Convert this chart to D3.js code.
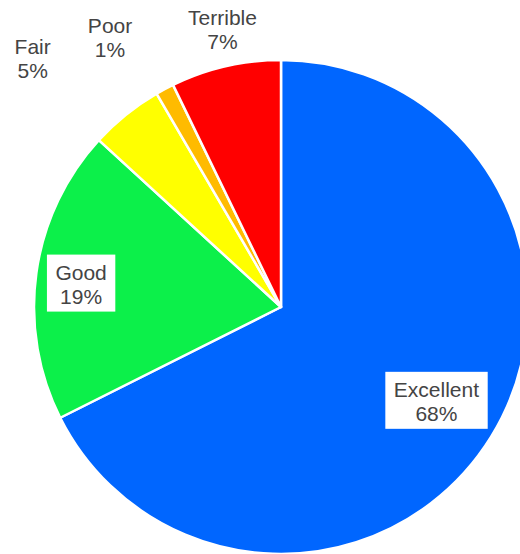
<!DOCTYPE html>
<html>
<head>
<meta charset="utf-8">
<script src="https://cdn.jsdelivr.net/npm/d3@7"></script>
<style>
  body { margin: 0; background: #fff; }
  svg { display: block; }
</style>
</head>
<body>
<div id="chart"></div>
<script>
// data
const categories = ["Excellent", "Good", "Fair", "Poor", "Terrible"]
const shares = [67.6, 19.2, 4.8, 1.2, 7.2]
const colors = ["#0066ff", "#0cf04a", "#ffff00", "#ffbb00", "#ff0000"]

// label placement: angle nudge (deg) from slice middle, radius as fraction of R, boxed or not
const labelPlace = {
  Excellent: { shift: -0.7, r: 0.734, box: true },
  Good: { shift: -1.1, r: 0.815, box: true },
  Fair: { shift: -6.0, r: 1.425, box: false },
  Poor: { shift: -4.2, r: 1.296, box: false },
  Terrible: { shift: 1.1, r: 1.152, box: false }
}

const width = 520
const height = 554
const cx = 281
const cy = 307
const radius = 247
const fontSize = 21
const lineH = 24

const rows = categories.map((c, i) => ({ cat: c, value: shares[i], color: colors[i] }))

const svg = d3.select("#chart").append("svg")
  .attr("width", width)
  .attr("height", height)

const g = svg.append("g").attr("transform", `translate(${cx},${cy})`)

const pie = d3.pie().value(d => d.value).sort(null)
const arc = d3.arc().innerRadius(0).outerRadius(radius)
const arcs = pie(rows)

g.selectAll("path.slice")
  .data(arcs)
  .enter()
  .append("path")
  .attr("class", "slice")
  .attr("d", arc)
  .attr("fill", d => d.data.color)
  .attr("stroke", "#fff")
  .attr("stroke-width", 2.5)
  .attr("stroke-linejoin", "round")

const total = d3.sum(shares)
const labels = g.selectAll("g.label")
  .data(arcs)
  .enter()
  .append("g")
  .attr("class", "label")
  .attr("transform", d => {
    const p = labelPlace[d.data.cat]
    const a = (d.startAngle + d.endAngle) / 2 + p.shift * Math.PI / 180
    const r = p.r * radius
    return `translate(${r * Math.sin(a)},${-r * Math.cos(a)})`
  })

const texts = labels.append("text")
  .attr("text-anchor", "middle")
  .attr("font-family", "'Liberation Sans', Arial, sans-serif")
  .attr("font-size", fontSize)
  .attr("fill", "#444")

texts.append("tspan").attr("x", 0).attr("y", -3.5).text(d => d.data.cat)
texts.append("tspan").attr("x", 0).attr("y", -3.5 + lineH)
  .text(d => Math.round(d.data.value / total * 100) + "%")

labels.filter(d => labelPlace[d.data.cat].box).each(function() {
  const lab = d3.select(this)
  const bb = lab.select("text").node().getBBox()
  lab.insert("rect", "text")
    .attr("x", bb.x - 8.5)
    .attr("y", -28.5)
    .attr("width", bb.width + 17)
    .attr("height", 57)
    .attr("fill", "#fff")
})
</script>
</body>
</html>
